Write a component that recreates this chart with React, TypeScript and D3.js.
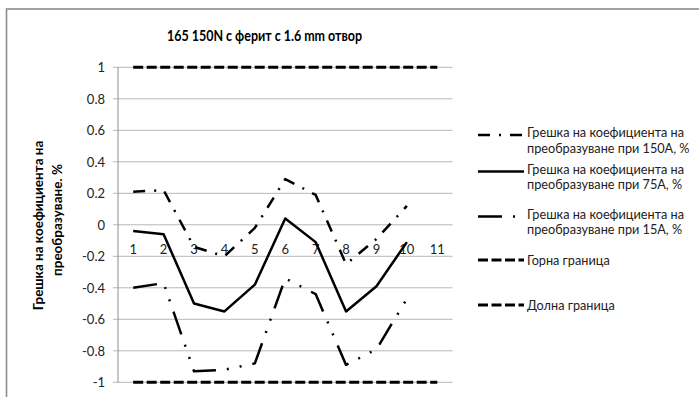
import React from 'react';
import * as d3 from 'd3';

const categories = ['1', '2', '3', '4', '5', '6', '7', '8', '9', '10', '11'];
const err150A = [0.21, 0.22, -0.14, -0.2, -0.02, 0.29, 0.19, -0.25, -0.09, 0.12];
const err75A = [-0.04, -0.06, -0.5, -0.55, -0.38, 0.04, -0.11, -0.55, -0.39, -0.11];
const err15A = [-0.4, -0.37, -0.93, -0.92, -0.88, -0.34, -0.44, -0.89, -0.79, -0.47];
const upperLimit = [1, 1, 1, 1, 1, 1, 1, 1, 1, 1, 1];
const lowerLimit = [-1, -1, -1, -1, -1, -1, -1, -1, -1, -1, -1];
const yTicks = [1, 0.8, 0.6, 0.4, 0.2, 0, -0.2, -0.4, -0.6, -0.8, -1];

const title = '165 150N с ферит с 1.6 mm отвор';
const yTitle1 = 'Грешка на коефициента на';
const yTitle2 = 'преобразуване. %';

const legendItems = [
  { lines: ['Грешка на коефициента на', 'преобразуване при 150А, %'], dash: '12,9,2,9', w: 2.5 },
  { lines: ['Грешка на коефициента на', 'преобразуване при 75А, %'], dash: undefined, w: 2.5 },
  { lines: ['Грешка на коефициента на', 'преобразуване при 15А, %'], dash: '24,11,2,11,2,11', w: 2.5 },
  { lines: ['Горна граница'], dash: '10,3.5', w: 3 },
  { lines: ['Долна граница'], dash: '10,3.5', w: 3 },
];

const FONT = "Lato, 'Open Sans', sans-serif";

export default function App() {
  const W = 699, H = 397;
  const left = 118, right = 452.5, top = 67.3, bottom = 382.3;
  const x = d3.scaleBand<string>().domain(categories).range([left, right]);
  const cx = (i: number) => (x(categories[i]) as number) + x.bandwidth() / 2;
  const y = d3.scaleLinear().domain([-1, 1]).range([bottom, top]);
  const line = d3
    .line<number | null>()
    .defined((d) => d != null)
    .x((_, i) => cx(i))
    .y((d) => y(d as number));

  const series = [
    { data: err150A, dash: '12,9,2,9', w: 2.5 },
    { data: err75A, dash: undefined, w: 2.5 },
    { data: err15A, dash: '24,11,2,11,2,11', w: 2.5 },
    { data: upperLimit, dash: '10,3.5', w: 3 },
    { data: lowerLimit, dash: '10,3.5', w: 3 },
  ];

  const legendRows = [135, 171.5, 216.5, 260, 305];
  const fmt = (v: number) => (Math.abs(v) < 1e-9 ? '0' : String(+v.toFixed(1)));

  return (
    <svg width={W} height={H} style={{ position: 'absolute', left: 0, top: 0 }} fontFamily={FONT}>
      <rect x={0} y={0} width={W} height={H} fill="#fff" />
      <rect x={6.5} y={9} width={W + 10} height={H + 10} fill="none" stroke="#8c8c8c" strokeWidth={1.6} />
      <text x={264.5} y={35} textAnchor="middle" dominantBaseline="central" fontSize={14.5} fontWeight="bold" fill="#000"
        textLength={195} lengthAdjust="spacingAndGlyphs">
        {title}
      </text>
      {/* grid */}
      {yTicks.map((t) => (
        <g key={t}>
          <line x1={113} x2={right} y1={y(t)} y2={y(t)} stroke="#b7b7b7" strokeWidth={1} />
          <text x={105} y={y(t)} textAnchor="end" dominantBaseline="central" fontSize={13} fill="#222">
            {fmt(t)}
          </text>
        </g>
      ))}
      <line x1={left} x2={left} y1={top} y2={bottom} stroke="#8c8c8c" strokeWidth={1} />
      {categories.map((c, i) => (
        <text key={c} x={cx(i)} y={y(0) + 24} textAnchor="middle" dominantBaseline="central" fontSize={13} fill="#222">
          {c}
        </text>
      ))}
      {/* y title */}
      <g transform="translate(38,225.5) rotate(-90)">
        <text x={0} y={0} textAnchor="middle" dominantBaseline="central" fontSize={13.5} fontWeight="bold" fill="#000">
          {yTitle1}
        </text>
      </g>
      <g transform="translate(57,220) rotate(-90)">
        <text x={0} y={0} textAnchor="middle" dominantBaseline="central" fontSize={13.5} fontWeight="bold" fill="#000">
          {yTitle2}
        </text>
      </g>
      {/* series */}
      {series.map((s, k) => (
        <path
          key={k}
          d={line(s.data) as string}
          fill="none"
          stroke="#000"
          strokeWidth={s.w}
          strokeDasharray={s.dash}
          strokeLinejoin="round"
        />
      ))}
      {/* legend */}
      {legendItems.map((it, k) => {
        const ly = legendRows[k];
        return (
          <g key={k}>
            <line x1={478} x2={524} y1={ly} y2={ly} stroke="#000" strokeWidth={it.w} strokeDasharray={it.dash} />
            {it.lines.map((t, j) => (
              <text
                key={j}
                x={527}
                y={ly - (it.lines.length > 1 ? 3 : 0) + j * 15.7}
                dominantBaseline="central"
                fontSize={12.7}
                fill="#222"
              >
                {t}
              </text>
            ))}
          </g>
        );
      })}
    </svg>
  );
}
